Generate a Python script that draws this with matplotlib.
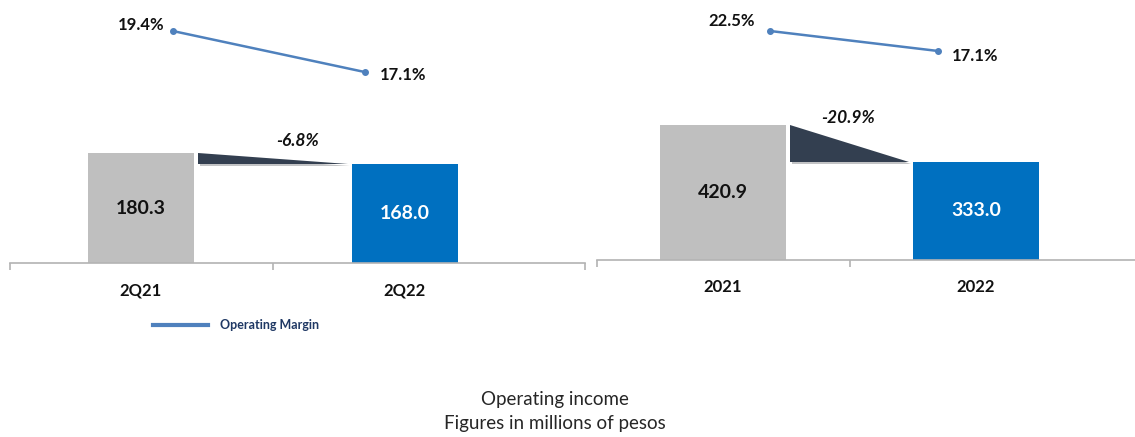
import matplotlib.pyplot as plt
import matplotlib.patheffects as pe
from matplotlib.lines import Line2D
from matplotlib.patches import Polygon

plt.rcParams["font.family"] = ["Lato", "DejaVu Sans"]

# quarter panel
periods_q = ["2Q21", "2Q22"]
income_q = [180.3, 168.0]
margin_q = [19.4, 17.1]
change_q = "-6.8%"

# full-year panel
periods_y = ["2021", "2022"]
income_y = [420.9, 333.0]
margin_y = [22.5, 17.1]
change_y = "-20.9%"

GRAY = "#bfbfbf"
BLUE = "#0070c0"
DARK = "#333f50"
LINE = "#4f81bd"
AXIS = "#b3b3b3"

W, H = 1135, 437


def draw_panel(rect, periods, income, margin, change, cfg):
    ax = fig.add_axes(rect)
    x = [0, 1]
    ax.set_xlim(*cfg["xlim"])
    ax.set_ylim(*cfg["ylim"])
    bars = ax.bar(x, income, width=cfg["width"], color=[GRAY, BLUE], zorder=2)
    for bar, col in zip(bars, ["#111111", "white"]):
        ax.annotate(f"{bar.get_height():.1f}",
                    (bar.get_x() + bar.get_width() / 2,
                     (cfg["ylim"][0] + bar.get_height()) / 2),
                    ha="center", va="center", fontsize=14,
                    fontweight="bold", color=col)

    # wedge showing the drop between the two bars
    gap = 0.015
    x0 = x[0] + cfg["width"] / 2 + gap
    x1 = x[1] - cfg["width"] / 2 - gap
    tri = Polygon([(x0, income[0]), (x0, income[1]), (x1, income[1])],
                  closed=True, facecolor=DARK, edgecolor="none", zorder=3)
    tri.set_path_effects([pe.SimplePatchShadow(offset=(1.5, -1.5), alpha=0.25),
                          pe.Normal()])
    ax.add_patch(tri)
    ax.annotate(change, (cfg["change_x"], income[0]),
                xytext=(0, cfg["change_dy"]), textcoords="offset pixels",
                ha="center", va="center", fontsize=12.5,
                fontweight="bold", style="italic", color="#111111")

    for s in ["left", "right", "top"]:
        ax.spines[s].set_visible(False)
    ax.spines["bottom"].set_color(AXIS)
    ax.spines["bottom"].set_linewidth(1.2)
    ax.set_yticks([])
    ax.set_xticks(cfg["ticks"])
    ax.set_xticklabels([])
    ax.tick_params(axis="x", which="major", direction="out", length=5,
                   color=AXIS, width=1.2)
    ax.set_xticks(x, minor=True)
    ax.set_xticklabels(periods, minor=True, fontsize=12, fontweight="bold",
                       color="#111111")
    ax.tick_params(axis="x", which="minor", length=0, pad=14)

    # operating margin line on its own scale
    ax2 = ax.twinx()
    ax2.set_ylim(*cfg["mlim"])
    lx = [x[0] + cfg["shift"][0], x[1] + cfg["shift"][1]]
    ax2.plot(lx, margin, color=LINE, lw=1.8, marker="o", markersize=4,
             label="Operating Margin")
    ax2.annotate(f"{margin[0]:.1f}%", (lx[0], margin[0]),
                 xytext=cfg["off0"], textcoords="offset pixels",
                 ha="right", va="center", fontsize=12, fontweight="bold",
                 color="#111111")
    ax2.annotate(f"{margin[1]:.1f}%", (lx[1], margin[1]),
                 xytext=cfg["off1"], textcoords="offset pixels",
                 ha="left", va="center", fontsize=12, fontweight="bold",
                 color="#111111")
    ax2.axis("off")
    return ax


fig = plt.figure(figsize=(W / 100, H / 100), dpi=100)

left_cfg = dict(xlim=(-0.498, 1.682), ylim=(57.3, 351.5), width=0.40,
                ticks=[-0.498, 0.5, 1.682], mlim=(6.39, 21.14),
                shift=(0.121, -0.152), off0=(-8, 6), off1=(15, -3),
                change_x=0.595, change_dy=12)
right_cfg = dict(xlim=(-0.498, 1.628), ylim=(100.2, 717.8), width=0.50,
                 ticks=[-0.498, 0.5], mlim=(-39.33, 30.87),
                 shift=(0.186, -0.150), off0=(-15, 10), off1=(14, -5),
                 change_x=0.494, change_dy=7)

draw_panel([9.5 / W, (H - 263) / H, 575.5 / W, 263 / H],
           periods_q, income_q, margin_q, change_q, left_cfg)
draw_panel([597 / W, (H - 260) / H, 538 / W, 260 / H],
           periods_y, income_y, margin_y, change_y, right_cfg)

fig.legend(handles=[Line2D([], [], color=LINE, lw=3)],
           labels=["Operating Margin"], loc="center left",
           bbox_to_anchor=(142 / W, 1 - 325 / H), frameon=False,
           handlelength=4.4, handletextpad=0.9,
           prop=dict(size=9, weight="bold"), labelcolor="#1f3864")

fig.text(555 / W, 1 - 400 / H, "Operating income", ha="center", va="center",
         fontsize=13.5, color="#262626")
fig.text(555 / W, 1 - 424 / H, "Figures in millions of pesos", ha="center",
         va="center", fontsize=13.5, color="#262626")

fig.savefig("out.png", dpi=100)
